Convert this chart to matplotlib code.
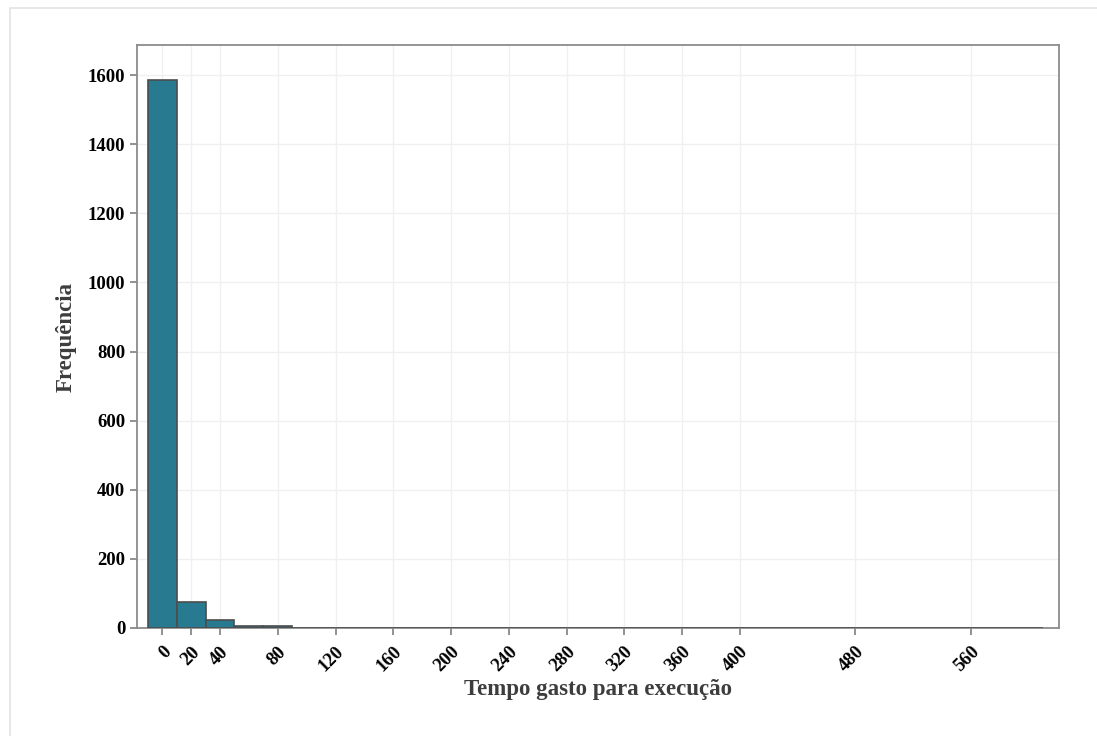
import matplotlib.pyplot as plt
from matplotlib.patches import Rectangle

# histogram bins (width 20, centred on multiples of 20)
bin_centers = list(range(0, 620, 20))
counts = [1585, 74, 22, 6, 5, 1, 1, 1, 0, 1,
          1, 0, 0, 1, 0, 0, 0, 1, 0, 0,
          0, 0, 0, 1, 0, 0, 0, 0, 0, 0, 1]
x_ticks = [0, 20, 40, 80, 120, 160, 200, 240, 280, 320, 360, 400, 480, 560]
y_ticks = [0, 200, 400, 600, 800, 1000, 1200, 1400, 1600]

plt.rcParams['font.family'] = ['Liberation Serif', 'DejaVu Serif']

fig = plt.figure(figsize=(10.97, 7.36), dpi=100)
ax = fig.add_axes([137 / 1097, 1 - 628 / 736, (1059 - 137) / 1097, (628 - 45) / 736])

# outer frame of the screenshot
fig.patches.append(Rectangle((10 / 1097, -0.1), 1.2, 1 - 8 / 736 + 0.1,
                             transform=fig.transFigure, fill=False,
                             edgecolor='#e3e3e3', linewidth=1.2))

ax.bar(bin_centers, counts, width=20, color='#277a8f', edgecolor='#4d4d4d',
       linewidth=1.2, zorder=3)

ax.set_xlim(-17.5, 621)
ax.set_ylim(0, 1687)
ax.set_xticks(x_ticks)
ax.set_xticklabels([str(t) for t in x_ticks], rotation=45, ha='right',
                   rotation_mode='anchor', fontsize=13.5, fontweight='bold')
ax.set_yticks(y_ticks)
ax.set_yticklabels([str(t) for t in y_ticks], fontsize=13.5, fontweight='bold')

ax.grid(True, color='#f0f0f0', linewidth=1, zorder=0)
for s in ax.spines.values():
    s.set_color('#8c8c8c')
    s.set_linewidth(1.3)
ax.tick_params(axis='both', colors='#7f7f7f', length=5, width=1.2,
               labelcolor='black')
ax.tick_params(axis='x', pad=6)

ax.set_xlabel('Tempo gasto para execução', fontsize=16.5, fontweight='bold',
              color='#3d3d3d', labelpad=3)
ax.set_ylabel('Frequência', fontsize=16.5, fontweight='bold', color='#3d3d3d',
              labelpad=8)

fig.savefig('out.png', dpi=100)
